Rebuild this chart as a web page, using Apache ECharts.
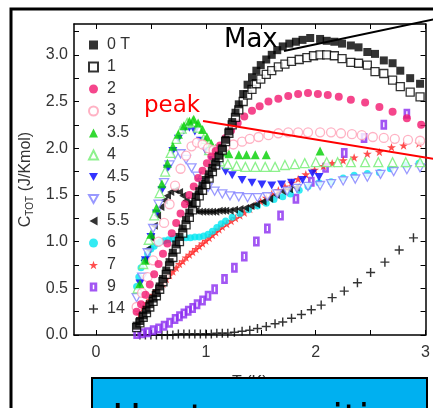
<!DOCTYPE html>
<html>
<head>
<meta charset="utf-8">
<script src="https://cdn.jsdelivr.net/npm/echarts@6/dist/echarts.min.js"></script>
<style>
  html, body { margin: 0; padding: 0; background: #fff; }
  #main { width: 433px; height: 408px; }
</style>
</head>
<body>
<div id="main"></div>
<script>
// field labels (legend)
var fieldNames = ['0 T', '1', '2', '3', '3.5', '4', '4.5', '5', '5.5', '6', '7', '9', '14'];

// [T (K), C_tot (J/K mol)]
var d0T = [[0.37,0.10],[0.40,0.15],[0.43,0.21],[0.46,0.27],[0.49,0.33],[0.52,0.39],[0.55,0.45],[0.58,0.52],[0.61,0.60],[0.64,0.69],[0.67,0.78],[0.70,0.88],[0.73,0.97],[0.76,1.05],[0.79,1.14],[0.82,1.23],[0.85,1.31],[0.88,1.40],[0.91,1.48],[0.94,1.54],[0.97,1.60],[1.00,1.66],[1.03,1.72],[1.06,1.79],[1.09,1.85],[1.12,1.92],[1.15,2.00],[1.18,2.09],[1.21,2.18],[1.24,2.28],[1.27,2.38],[1.30,2.47],[1.34,2.58],[1.38,2.68],[1.42,2.76],[1.46,2.83],[1.50,2.89],[1.55,2.95],[1.60,3.00],[1.65,3.05],[1.70,3.09],[1.76,3.12],[1.82,3.14],[1.88,3.16],[1.95,3.18],[2.04,3.17],[2.10,3.15],[2.17,3.14],[2.24,3.12],[2.32,3.10],[2.39,3.08],[2.47,3.03],[2.54,3.01],[2.62,2.94],[2.70,2.91],[2.77,2.83],[2.86,2.75],[2.95,2.69]];
var d1T = [[0.37,0.08],[0.40,0.13],[0.43,0.19],[0.46,0.24],[0.49,0.30],[0.52,0.36],[0.55,0.42],[0.58,0.49],[0.61,0.57],[0.64,0.65],[0.67,0.74],[0.70,0.83],[0.73,0.92],[0.76,1.00],[0.79,1.09],[0.82,1.18],[0.85,1.26],[0.88,1.34],[0.91,1.42],[0.94,1.49],[0.97,1.55],[1.00,1.61],[1.03,1.68],[1.06,1.75],[1.09,1.82],[1.12,1.90],[1.15,1.98],[1.18,2.07],[1.21,2.16],[1.24,2.25],[1.27,2.33],[1.30,2.41],[1.34,2.50],[1.38,2.57],[1.42,2.63],[1.46,2.69],[1.50,2.74],[1.55,2.79],[1.60,2.83],[1.66,2.87],[1.72,2.90],[1.78,2.93],[1.85,2.95],[1.92,2.97],[1.98,2.99],[2.04,3.00],[2.10,3.00],[2.17,2.99],[2.24,2.96],[2.32,2.92],[2.39,2.91],[2.47,2.89],[2.54,2.82],[2.62,2.80],[2.70,2.73],[2.77,2.66],[2.86,2.60],[2.95,2.55]];
var d2T = [[0.37,0.25],[0.41,0.33],[0.45,0.43],[0.49,0.54],[0.53,0.65],[0.57,0.76],[0.61,0.87],[0.65,0.98],[0.69,1.09],[0.73,1.20],[0.77,1.30],[0.81,1.40],[0.85,1.50],[0.89,1.59],[0.93,1.68],[0.97,1.76],[1.01,1.84],[1.05,1.91],[1.09,1.97],[1.13,2.03],[1.18,2.11],[1.23,2.19],[1.29,2.27],[1.35,2.34],[1.42,2.40],[1.49,2.45],[1.57,2.50],[1.66,2.53],[1.75,2.56],[1.84,2.58],[1.93,2.59],[2.02,2.58],[2.11,2.57],[2.21,2.55],[2.32,2.52],[2.45,2.49],[2.58,2.44],[2.70,2.39],[2.83,2.32],[2.96,2.25]];
var d3T = [[0.37,0.30],[0.42,0.45],[0.47,0.62],[0.52,0.80],[0.57,1.00],[0.62,1.20],[0.67,1.40],[0.72,1.60],[0.77,1.78],[0.82,1.92],[0.87,2.02],[0.92,2.06],[0.97,2.04],[1.02,2.00],[1.07,1.98],[1.12,1.99],[1.18,2.02],[1.25,2.04],[1.33,2.07],[1.40,2.10],[1.48,2.12],[1.57,2.14],[1.66,2.16],[1.75,2.17],[1.84,2.17],[1.93,2.17],[2.04,2.17],[2.14,2.17],[2.23,2.16],[2.33,2.15],[2.42,2.14],[2.52,2.12],[2.62,2.11],[2.72,2.10],[2.84,2.09],[2.95,2.08]];
var d35T = [[0.40,0.55],[0.45,0.80],[0.50,1.08],[0.55,1.36],[0.60,1.62],[0.65,1.84],[0.70,2.02],[0.75,2.15],[0.80,2.24],[0.85,2.29],[0.89,2.31],[0.93,2.27],[0.97,2.20],[1.01,2.12],[1.05,2.05],[1.09,2.00],[1.15,1.96],[1.21,1.94],[1.30,1.93],[1.37,1.93],[1.45,1.93],[1.55,1.93],[2.04,1.97]];
var d4T = [[0.38,0.50],[0.43,0.76],[0.48,1.02],[0.53,1.28],[0.58,1.52],[0.63,1.75],[0.68,1.95],[0.73,2.10],[0.78,2.21],[0.83,2.27],[0.88,2.28],[0.93,2.22],[0.98,2.10],[1.03,1.98],[1.08,1.90],[1.13,1.86],[1.20,1.83],[1.28,1.81],[1.36,1.80],[1.45,1.80],[1.54,1.80],[1.63,1.80],[1.72,1.82],[1.81,1.83],[1.90,1.84],[2.00,1.85],[2.10,1.85],[2.20,1.85],[2.32,1.85],[2.45,1.85],[2.57,1.85],[2.70,1.85],[2.82,1.85],[2.95,1.85]];
var d45T = [[0.40,0.55],[0.45,0.80],[0.50,1.05],[0.55,1.30],[0.60,1.55],[0.65,1.78],[0.70,1.97],[0.75,2.10],[0.80,2.19],[0.85,2.22],[0.90,2.18],[0.95,2.08],[1.00,1.97],[1.06,1.87],[1.12,1.82],[1.18,1.75],[1.24,1.71],[1.33,1.66],[1.42,1.63],[1.51,1.61],[1.60,1.60],[1.69,1.61],[1.78,1.63],[1.88,1.66],[1.97,1.73],[2.03,1.69]];
var d5T = [[0.37,0.40],[0.42,0.62],[0.47,0.88],[0.52,1.14],[0.57,1.40],[0.62,1.63],[0.67,1.82],[0.72,1.93],[0.77,1.94],[0.82,1.88],[0.87,1.79],[0.92,1.70],[0.97,1.63],[1.02,1.58],[1.08,1.54],[1.15,1.51],[1.22,1.49],[1.30,1.48],[1.38,1.47],[1.47,1.47],[1.56,1.48],[1.65,1.51],[1.74,1.54],[1.83,1.57],[1.93,1.59],[2.04,1.60],[2.14,1.62],[2.25,1.65],[2.36,1.67],[2.47,1.69],[2.59,1.72],[2.71,1.75],[2.83,1.77],[2.95,1.79]];
var d55T = [[0.44,0.80],[0.47,0.92],[0.50,1.04],[0.53,1.17],[0.56,1.28],[0.59,1.37],[0.62,1.44],[0.65,1.49],[0.68,1.53],[0.72,1.55],[0.76,1.53],[0.79,1.49],[0.82,1.44],[0.85,1.40],[0.88,1.36],[0.91,1.33],[0.94,1.32],[0.97,1.32],[1.00,1.32],[1.03,1.32],[1.06,1.32],[1.09,1.32],[1.12,1.33],[1.15,1.33],[1.18,1.33],[1.22,1.33],[1.26,1.34],[1.31,1.35],[1.36,1.36],[1.41,1.38],[1.46,1.40],[1.52,1.43],[1.58,1.46],[1.64,1.50],[1.70,1.54],[1.76,1.56],[1.82,1.58]];
var d6T = [[0.37,0.52],[0.39,0.62],[0.41,0.72],[0.44,0.80],[0.47,0.87],[0.50,0.92],[0.53,0.95],[0.56,0.98],[0.59,1.00],[0.62,1.01],[0.66,1.02],[0.70,1.03],[0.74,1.03],[0.78,1.04],[0.82,1.04],[0.86,1.04],[0.90,1.05],[0.94,1.05],[0.98,1.06],[1.02,1.08],[1.06,1.11],[1.10,1.15],[1.14,1.19],[1.18,1.22],[1.24,1.26],[1.31,1.30],[1.39,1.34],[1.47,1.38],[1.55,1.41],[1.62,1.45],[1.70,1.48],[1.77,1.51],[1.85,1.55],[1.93,1.59],[2.03,1.63],[2.14,1.64],[2.25,1.68],[2.35,1.71],[2.47,1.73],[2.58,1.74],[2.68,1.78],[2.82,1.82],[2.94,1.84]];
var d7T = [[0.40,0.22],[0.43,0.29],[0.46,0.34],[0.49,0.38],[0.52,0.43],[0.55,0.47],[0.58,0.51],[0.61,0.55],[0.64,0.60],[0.67,0.64],[0.70,0.68],[0.73,0.72],[0.76,0.76],[0.79,0.79],[0.82,0.83],[0.85,0.86],[0.88,0.89],[0.91,0.92],[0.94,0.95],[0.97,0.98],[1.00,1.01],[1.03,1.04],[1.06,1.07],[1.09,1.10],[1.12,1.13],[1.15,1.16],[1.19,1.19],[1.23,1.22],[1.27,1.25],[1.31,1.28],[1.35,1.31],[1.40,1.35],[1.45,1.39],[1.50,1.43],[1.55,1.47],[1.60,1.51],[1.66,1.55],[1.72,1.59],[1.78,1.63],[1.84,1.67],[1.91,1.72],[1.99,1.77],[2.07,1.81],[2.15,1.84],[2.25,1.87],[2.35,1.90],[2.47,1.94],[2.58,1.96],[2.69,2.01],[2.80,2.03],[2.94,2.05]];
var d9T = [[0.37,0.01],[0.42,0.02],[0.47,0.03],[0.52,0.05],[0.57,0.07],[0.62,0.10],[0.67,0.13],[0.72,0.17],[0.76,0.20],[0.80,0.23],[0.84,0.26],[0.88,0.29],[0.92,0.33],[0.97,0.37],[1.02,0.42],[1.08,0.49],[1.17,0.60],[1.26,0.72],[1.35,0.84],[1.46,1.00],[1.56,1.14],[1.68,1.28],[1.82,1.46],[1.96,1.64],[2.09,1.79],[2.26,1.95],[2.44,2.11],[2.62,2.25],[2.83,2.37]];
var d14T = [[0.40,0.00],[0.45,0.00],[0.50,0.00],[0.55,0.00],[0.60,0.00],[0.65,0.00],[0.70,0.00],[0.75,0.01],[0.80,0.01],[0.85,0.01],[0.90,0.01],[0.95,0.01],[1.00,0.01],[1.05,0.01],[1.10,0.02],[1.15,0.02],[1.20,0.02],[1.26,0.03],[1.33,0.04],[1.40,0.05],[1.47,0.07],[1.55,0.09],[1.63,0.12],[1.70,0.14],[1.78,0.18],[1.87,0.22],[1.96,0.27],[2.05,0.32],[2.15,0.40],[2.26,0.47],[2.38,0.56],[2.50,0.67],[2.63,0.78],[2.76,0.91],[2.89,1.04]];

// axis ticks
var xLabels = [0, 1, 2, 3];
var xTicks = [0, 0.5, 1, 1.5, 2, 2.5, 3];
var yLabels = [0, 0.5, 1, 1.5, 2, 2.5, 3];
var yTicks = [0, 0.25, 0.5, 0.75, 1, 1.25, 1.5, 1.75, 2, 2.25, 2.5, 2.75, 3, 3.25];

var STAR = 'path://M5,0L6.2,3.6L10,3.6L6.9,5.9L8.1,9.5L5,7.3L1.9,9.5L3.1,5.9L0,3.6L3.8,3.6Z';
var PLUS = 'path://M4.2,0H5.8V4.2H10V5.8H5.8V10H4.2V5.8H0V4.2H4.2Z';
var SLOT = 'path://M0,0H10V12H0Z M4,3V9H6V3Z';
var DOWN = 'path://M0,0H10L5,9Z';
var LEFT = 'path://M9,0V10L0,5Z';

function sc(name, data, symbol, size, fill, border) {
  return {
    name: name,
    type: 'scatter',
    data: data,
    symbol: symbol,
    symbolSize: size,
    symbolKeepAspect: true,
    itemStyle: border ? { color: fill, borderColor: border, borderWidth: 1.3 } : { color: fill },
    emphasis: { disabled: true }
  };
}

var chart = echarts.init(document.getElementById('main'), null, { renderer: 'canvas' });

var tickFont = { fontFamily: 'Liberation Sans', fontSize: 16, color: '#333' };

function spine(extra) {
  var a = {
    type: 'value',
    axisLine: { show: true, onZero: false, lineStyle: { color: '#000', width: 1.5 } },
    axisTick: { inside: true, length: 5, lineStyle: { color: '#000' } },
    splitLine: { show: false }
  };
  return Object.assign(a, extra);
}

var option = {
  animation: false,
  backgroundColor: '#fff',
  grid: { left: 74, right: 6, top: 24, bottom: 73 },
  legend: {
    orient: 'vertical',
    left: 83,
    top: 32,
    itemWidth: 9,
    itemHeight: 9,
    itemGap: 6,
    textStyle: { fontFamily: 'Liberation Sans', fontSize: 16, color: '#333', padding: [0, 0, 0, 4] },
    data: fieldNames
  },
  xAxis: [
    spine({ min: -0.2, max: 3.0, name: 'T (K)', nameLocation: 'middle', nameGap: 40, nameTextStyle: tickFont,
      axisTick: { inside: true, length: 5, customValues: xTicks, lineStyle: { color: '#000' } },
      axisLabel: Object.assign({ customValues: xLabels, margin: 10 }, tickFont) }),
    spine({ min: -0.2, max: 3.0, position: 'top',
      axisTick: { inside: true, length: 5, customValues: xTicks, lineStyle: { color: '#000' } },
      axisLabel: { show: false } })
  ],
  yAxis: [
    spine({ min: 0, max: 3.33, position: 'left',
      name: 'C{s|TOT} (J/Kmol)', nameLocation: 'middle', nameGap: 35, nameRotate: 90,
      nameTextStyle: {
        fontFamily: 'Liberation Sans', fontSize: 16, color: '#333',
        rich: { s: { fontFamily: 'Liberation Sans', fontSize: 10, color: '#333', verticalAlign: 'bottom', padding: [8, 0, 0, 0] } }
      },
      axisTick: { inside: true, length: 5, customValues: yTicks, lineStyle: { color: '#000' } },
      axisLabel: Object.assign({ customValues: yLabels, margin: 6,
        formatter: function (v) { return v.toFixed(1); } }, tickFont) }),
    spine({ min: 0, max: 3.33, position: 'right',
      axisTick: { inside: true, length: 5, customValues: yTicks, lineStyle: { color: '#000' } },
      axisLabel: { show: false } })
  ],
  series: [
    sc(fieldNames[12], d14T, PLUS, 9, '#000'),
    sc(fieldNames[11], d9T, SLOT, [8, 10], '#8b2cf0'),
    sc(fieldNames[10], d7T, STAR, 9, '#ff2020'),
    sc(fieldNames[9], d6T, 'circle', 7, '#00e6f0'),
    sc(fieldNames[8], d55T, LEFT, 8, '#000'),
    sc(fieldNames[7], d5T, DOWN, 9, '#fff', '#8080ff'),
    sc(fieldNames[6], d45T, DOWN, 9, '#0000ff'),
    sc(fieldNames[5], d4T, 'triangle', 9, '#fff', '#70ee70'),
    sc(fieldNames[4], d35T, 'triangle', 9, '#00d000'),
    sc(fieldNames[3], d3T, 'circle', 9, '#fff', '#ff9fb5'),
    sc(fieldNames[2], d2T, 'circle', 8, '#f2186f'),
    sc(fieldNames[1], d1T, 'rect', 8, '#fff', '#000'),
    sc(fieldNames[0], d0T, 'rect', 8, '#000')
  ],
  graphic: [
    { type: 'rect', z: 100, shape: { x: 11, y: 9, width: 480, height: 480 },
      style: { fill: 'none', stroke: '#000', lineWidth: 3 } },
    { type: 'line', z: 100, shape: { x1: 284, y1: 51, x2: 440, y2: 18 },
      style: { stroke: '#000', lineWidth: 2 } },
    { type: 'text', z: 100, style: { x: 224, y: 40, text: 'Max', font: '26px "DejaVu Sans"', fill: '#000', verticalAlign: 'middle' } },
    { type: 'line', z: 100, shape: { x1: 203, y1: 121, x2: 440, y2: 160 },
      style: { stroke: '#ff0000', lineWidth: 2 } },
    { type: 'text', z: 100, style: { x: 144, y: 106, text: 'peak', font: '23px "DejaVu Sans"', fill: '#ff0000', verticalAlign: 'middle' } },
    { type: 'rect', z: 100, shape: { x: 92, y: 378, width: 335, height: 60 },
      style: { fill: '#00b0f0', stroke: '#000', lineWidth: 2 } },
    { type: 'text', z: 101, style: { x: 112, y: 422, text: 'Heat capacities', font: '39px "DejaVu Sans"', fill: '#000', verticalAlign: 'middle' } }
  ]
};

chart.setOption(option);
</script>
</body>
</html>
